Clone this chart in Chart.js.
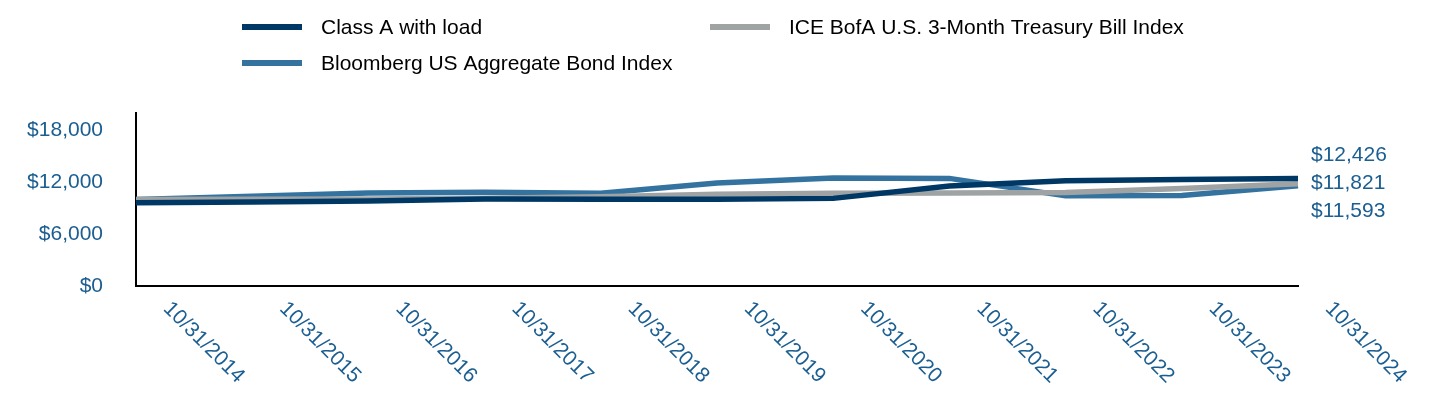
<!DOCTYPE html>
<html>
<head>
<meta charset="utf-8">
<script src="https://cdn.jsdelivr.net/npm/chart.js@4.4.0/dist/chart.umd.min.js"></script>
<style>
  html, body { margin: 0; padding: 0; background: #fff; }
</style>
</head>
<body>
<canvas id="myLineChart" width="1440" height="420"></canvas>
<script>
// -- data
var dates = ["10/31/2014", "10/31/2015", "10/31/2016", "10/31/2017", "10/31/2018", "10/31/2019",
             "10/31/2020", "10/31/2021", "10/31/2022", "10/31/2023", "10/31/2024"];
var classA = [9610, 9720, 9830, 10050, 10040, 10020, 10130, 11550, 12170, 12310, 12426];
var bondIndex = [10000, 10380, 10750, 10850, 10720, 11900, 12480, 12440, 10420, 10470, 11593];
var tbillIndex = [10000, 10020, 10060, 10140, 10320, 10620, 10720, 10740, 10820, 11280, 11821];
var yTicks = [0, 6000, 12000, 18000];

var fontFamily = "Arial, 'Liberation Sans', sans-serif";
var fontSize = 21;
var tickColor = '#1b5e91';
var darkBlue = '#003865';
var steelBlue = '#3473a0';
var grey = '#a0a3a3';

function money(v) {
  return '$' + Math.round(v).toLocaleString('en-US');
}

// legend drawn in two columns like the reference
var legendPlugin = {
  id: 'twoColLegend',
  afterDraw: function (chart) {
    var ctx = chart.ctx;
    var slots = [[242, 27], [710, 27], [242, 63]];
    ctx.save();
    ctx.font = fontSize + 'px ' + fontFamily;
    ctx.textAlign = 'left';
    ctx.textBaseline = 'middle';
    chart.data.datasets.forEach(function (ds, i) {
      var s = slots[ds.legendSlot];
      ctx.strokeStyle = ds.borderColor;
      ctx.lineWidth = 6;
      ctx.beginPath();
      ctx.moveTo(s[0], s[1]);
      ctx.lineTo(s[0] + 60, s[1]);
      ctx.stroke();
      ctx.fillStyle = '#000';
      ctx.fillText(ds.label, s[0] + 79, s[1] + 1);
    });
    ctx.restore();
  }
};

// rotated date labels running down to the right
var dateLabelPlugin = {
  id: 'dateLabels',
  afterDraw: function (chart) {
    var ctx = chart.ctx;
    var xs = chart.scales.x;
    ctx.save();
    ctx.font = fontSize + 'px ' + fontFamily;
    ctx.fillStyle = tickColor;
    ctx.textAlign = 'left';
    ctx.textBaseline = 'top';
    dates.forEach(function (d, i) {
      var px = xs.getPixelForValue(i);
      ctx.save();
      ctx.translate(px + 38, 298);
      ctx.rotate(Math.PI / 4);
      ctx.fillText(d, 0, 0);
      ctx.restore();
    });
    ctx.restore();
  }
};

// ending values at the right of the plot, spread so they don't overlap
var endLabelPlugin = {
  id: 'endLabels',
  afterDraw: function (chart) {
    var ctx = chart.ctx;
    var ys = chart.scales.y;
    var xs = chart.scales.x;
    var items = chart.data.datasets.map(function (ds) {
      var v = ds.data[ds.data.length - 1];
      return { text: money(v), y: ys.getPixelForValue(v) };
    });
    items.sort(function (a, b) { return a.y - b.y; });
    var mean = items.reduce(function (s, it) { return s + it.y; }, 0) / items.length;
    for (var i = 1; i < items.length; i++) {
      if (items[i].y - items[i - 1].y < 28) items[i].y = items[i - 1].y + 28;
    }
    var mean2 = items.reduce(function (s, it) { return s + it.y; }, 0) / items.length;
    ctx.save();
    ctx.font = fontSize + 'px ' + fontFamily;
    ctx.fillStyle = tickColor;
    ctx.textAlign = 'left';
    ctx.textBaseline = 'middle';
    items.forEach(function (it) {
      ctx.fillText(it.text, xs.right + 13, it.y - (mean2 - mean) + 1);
    });
    ctx.restore();
  }
};

var ctx = document.getElementById('myLineChart');

var myLineChart = new Chart(ctx, {
  type: 'line',
  data: {
    labels: dates,
    datasets: [{
      label: 'Class A with load',
      data: classA,
      borderColor: darkBlue,
      legendSlot: 0
    }, {
      label: 'ICE BofA U.S. 3-Month Treasury Bill Index',
      data: tbillIndex,
      borderColor: grey,
      legendSlot: 1
    }, {
      label: 'Bloomberg US Aggregate Bond Index',
      data: bondIndex,
      borderColor: steelBlue,
      legendSlot: 2
    }]
  },
  options: {
    responsive: false,
    animation: false,
    events: [],
    layout: { padding: { top: 113, right: 142, left: 0, bottom: 0 } },
    elements: {
      line: { borderWidth: 5.5, tension: 0, fill: false },
      point: { radius: 0 }
    },
    plugins: {
      legend: { display: false },
      tooltip: { enabled: false }
    },
    scales: {
      x: {
        offset: false,
        grid: { display: false, drawTicks: false },
        border: { display: true, color: '#000', width: 2 },
        ticks: { display: false },
        afterFit: function (s) { s.height = 134; }
      },
      y: {
        min: 0,
        max: 20000,
        grid: { display: false, drawTicks: false },
        border: { display: true, color: '#000', width: 2 },
        afterBuildTicks: function (s) {
          s.ticks = yTicks.map(function (v) { return { value: v }; });
        },
        ticks: {
          color: tickColor,
          padding: 33,
          font: { size: fontSize, family: fontFamily },
          callback: function (v) { return money(v); }
        },
        afterFit: function (s) { s.width = 136; }
      }
    }
  },
  plugins: [legendPlugin, dateLabelPlugin, endLabelPlugin]
});
</script>
</body>
</html>
